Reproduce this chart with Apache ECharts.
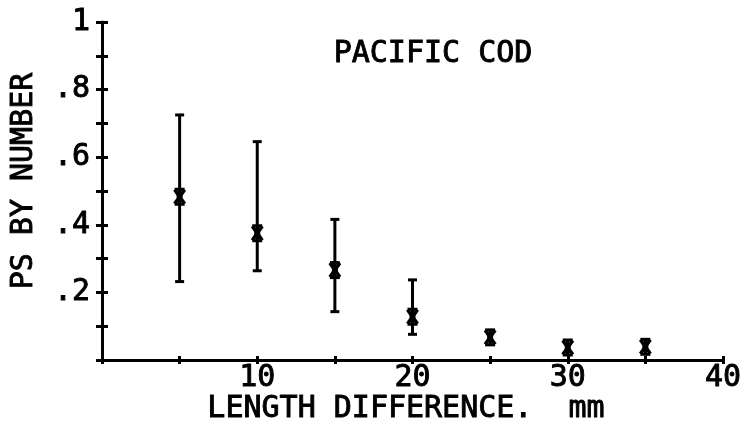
<!DOCTYPE html>
<html>
<head>
<meta charset="utf-8">
<script src="https://cdn.jsdelivr.net/npm/echarts@6/dist/echarts.min.js"></script>
<style>
  html, body { margin: 0; padding: 0; background: #fff; }
  #chart { width: 745px; height: 430px; }
</style>
</head>
<body>
<div id="chart"></div>
<script>
// Length difference (mm) between paired fish
var lengthDiff = [5, 10, 15, 20, 25, 30, 35];
// Mean proportion surviving, by number
var psMean = [0.483, 0.375, 0.266, 0.128, 0.067, 0.037, 0.039];
// Error bar bounds (null where no bar is drawn)
var psLow  = [0.232, 0.264, 0.143, 0.076, null, null, null];
var psHigh = [0.725, 0.646, 0.416, 0.237, null, null, null];
// Tick labels
var xTickLabels = { 10: '10', 20: '20', 30: '30', 40: '40' };
var yTickLabels = { 2: '.2', 4: '.4', 6: '.6', 8: '.8', 10: '1' };

var INK = '#000';
var FONT = 'DejaVu Sans Mono';
var TEXT_FONT = '30px "' + FONT + '"';
var TEXT_WEIGHT = 0.9; // outline width that thickens the plotter-style lettering

var points = lengthDiff.map(function (x, i) {
  return [x, psMean[i], psLow[i], psHigh[i]];
});

function xLabel(v) { return xTickLabels[Math.round(v)] || ''; }
function yLabel(v) { return yTickLabels[Math.round(v * 10)] || ''; }

var tickStyle = { color: INK, width: 3 };
var labelStyle = {
  color: INK, fontFamily: FONT, fontSize: 30,
  textBorderColor: INK, textBorderWidth: TEXT_WEIGHT
};

function textEl(text, x, y, rotation) {
  return {
    type: 'text', x: x, y: y, rotation: rotation || 0,
    style: {
      text: text, fill: INK, font: TEXT_FONT,
      stroke: INK, lineWidth: TEXT_WEIGHT,
      textAlign: 'center', textVerticalAlign: 'middle'
    }
  };
}

var chart = echarts.init(document.getElementById('chart'), null, { renderer: 'canvas' });

chart.setOption({
  animation: false,
  backgroundColor: '#fff',
  grid: { left: 102, right: 22, top: 22, bottom: 70 },
  xAxis: [
    {
      // axis line and labels
      type: 'value', min: 0, max: 40, interval: 5,
      axisLine: { show: true, lineStyle: { color: INK, width: 3 } },
      axisTick: { show: false },
      splitLine: { show: false },
      axisLabel: Object.assign({ formatter: xLabel, margin: 3 }, labelStyle)
    },
    {
      // ticks crossing the axis line
      type: 'value', min: 0, max: 40, interval: 5, position: 'bottom', offset: -4,
      axisLine: { show: false },
      axisTick: { show: true, inside: false, length: 8, lineStyle: tickStyle },
      splitLine: { show: false },
      axisLabel: { show: false }
    }
  ],
  yAxis: [
    {
      type: 'value', min: 0, max: 1, interval: 0.1,
      axisLine: { show: true, lineStyle: { color: INK, width: 3 } },
      axisTick: { show: false },
      splitLine: { show: false },
      axisLabel: Object.assign({ formatter: yLabel, margin: 12 }, labelStyle)
    },
    {
      type: 'value', min: 0, max: 1, interval: 0.1, position: 'left', offset: -6,
      axisLine: { show: false },
      axisTick: { show: true, inside: false, length: 12, lineStyle: tickStyle },
      splitLine: { show: false },
      axisLabel: { show: false }
    }
  ],
  graphic: [
    textEl('PACIFIC COD', 433, 54),
    textEl('LENGTH DIFFERENCE.  mm', 406, 409),
    textEl('PS BY NUMBER', 24, 181, Math.PI / 2)
  ],
  series: [
    {
      type: 'custom',
      xAxisIndex: 0, yAxisIndex: 0,
      data: points,
      clip: false,
      renderItem: function (params, api) {
        var x = api.value(0);
        var c = api.coord([x, api.value(1)]);
        var children = [];
        var lineStyle = { stroke: INK, lineWidth: 3 };
        var markStyle = { stroke: INK, lineWidth: 3.5 };
        var lowVal = api.value(2);
        if (lowVal !== null && lowVal !== '-' && !isNaN(lowVal)) {
          var lo = api.coord([x, lowVal]);
          var hi = api.coord([x, api.value(3)]);
          children.push(
            { type: 'line', shape: { x1: lo[0], y1: lo[1], x2: hi[0], y2: hi[1] }, style: lineStyle },
            { type: 'line', shape: { x1: lo[0] - 4.5, y1: lo[1], x2: lo[0] + 4.5, y2: lo[1] }, style: lineStyle },
            { type: 'line', shape: { x1: hi[0] - 4.5, y1: hi[1], x2: hi[0] + 4.5, y2: hi[1] }, style: lineStyle }
          );
        }
        // asterisk marker
        var cx = c[0], cy = c[1];
        children.push(
          { type: 'line', shape: { x1: cx, y1: cy - 8, x2: cx, y2: cy + 8 }, style: markStyle },
          { type: 'line', shape: { x1: cx - 5, y1: cy - 7, x2: cx + 5, y2: cy + 7 }, style: markStyle },
          { type: 'line', shape: { x1: cx + 5, y1: cy - 7, x2: cx - 5, y2: cy + 7 }, style: markStyle },
          { type: 'line', shape: { x1: cx - 5, y1: cy - 7.5, x2: cx + 5, y2: cy - 7.5 }, style: lineStyle },
          { type: 'line', shape: { x1: cx - 5, y1: cy + 7.5, x2: cx + 5, y2: cy + 7.5 }, style: lineStyle },
          { type: 'line', shape: { x1: cx - 3, y1: cy, x2: cx + 3, y2: cy }, style: markStyle }
        );
        return { type: 'group', children: children };
      }
    }
  ]
});
</script>
</body>
</html>
